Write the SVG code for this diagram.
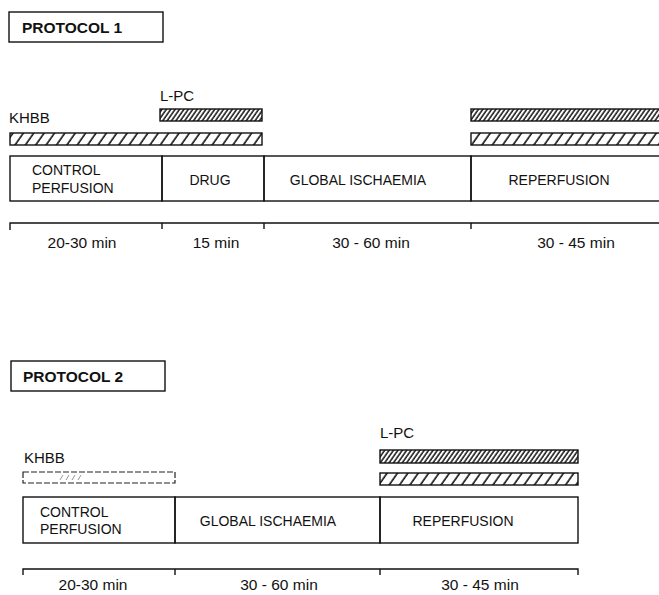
<svg xmlns="http://www.w3.org/2000/svg" width="659" height="595" viewBox="0 0 659 595">
<defs>
<pattern id="sparse" patternUnits="userSpaceOnUse" width="8.5" height="8" patternTransform="rotate(35)">
<rect width="8.5" height="8" fill="#fff"/>
<line x1="2" y1="0" x2="2" y2="8" stroke="#111" stroke-width="1.6"/>
</pattern>
<pattern id="dense" patternUnits="userSpaceOnUse" width="3.6" height="8" patternTransform="rotate(35)">
<rect width="3.6" height="8" fill="#fff"/>
<line x1="1" y1="0" x2="1" y2="8" stroke="#111" stroke-width="1.5"/>
</pattern>
<style>
.ln{fill:none;stroke:#111;stroke-width:1.4}
.bar{stroke:#111;stroke-width:1.4}
.t{font-family:"Liberation Sans",Arial,sans-serif;fill:#111}
.ttl{font-size:15.5px;font-weight:bold}
.lab{font-size:15px}
.sec{font-size:14px}
.dur{font-size:15.5px;text-anchor:middle}
.mid{text-anchor:middle}
</style>
</defs>
<rect width="659" height="595" fill="#fff"/>

<!-- PROTOCOL 1 -->
<g id="p1-title">
<rect class="ln" x="9" y="12" width="154" height="30"/>
<text class="t ttl" x="22" y="33">PROTOCOL 1</text>
</g>
<g id="p1-lpc">
<text class="t lab" x="160" y="101">L-PC</text>
<rect class="bar" x="160" y="109" width="102" height="12" fill="url(#dense)"/>
</g>
<g id="p1-khbb">
<text class="t lab" x="9" y="123">KHBB</text>
<rect class="bar" x="10" y="133" width="252" height="12" fill="url(#sparse)"/>
</g>
<g id="p1-reperf-bars">
<rect class="bar" x="471" y="109" width="200" height="12" fill="url(#dense)"/>
<rect class="bar" x="471" y="133" width="200" height="12" fill="url(#sparse)"/>
</g>
<g id="p1-control">
<rect class="ln" x="10" y="156" width="152" height="45"/>
<text class="t sec" x="32" y="175">CONTROL</text>
<text class="t sec" x="32" y="193">PERFUSION</text>
</g>
<g id="p1-drug">
<rect class="ln" x="162" y="156" width="102" height="45"/>
<text class="t sec mid" x="210" y="185">DRUG</text>
</g>
<g id="p1-ischaemia">
<rect class="ln" x="264" y="156" width="207" height="45"/>
<text class="t sec mid" x="358" y="185">GLOBAL ISCHAEMIA</text>
</g>
<g id="p1-reperfusion">
<rect class="ln" x="471" y="156" width="200" height="45"/>
<text class="t sec mid" x="559" y="185">REPERFUSION</text>
</g>

<!-- PROTOCOL 2 -->
<g id="p2-title">
<rect class="ln" x="11" y="361" width="154" height="30"/>
<text class="t ttl" x="23" y="382">PROTOCOL 2</text>
</g>
<g id="p2-khbb">
<text class="t lab" x="24" y="463">KHBB</text>
<rect x="23" y="472" width="152" height="11" fill="#fff" stroke="#222" stroke-width="1.2" stroke-dasharray="6 2"/>
<path d="M60,480 L63,475 M66,480 L69,475 M72,480 L75,475 M78,480 L81,475" stroke="#999" stroke-width="1"/>
</g>
<g id="p2-lpc">
<text class="t lab" x="380" y="438">L-PC</text>
<rect class="bar" x="380" y="450" width="198" height="13" fill="url(#dense)"/>
<rect class="bar" x="380" y="473" width="198" height="12" fill="url(#sparse)"/>
</g>
<g id="p2-control">
<rect class="ln" x="23" y="497" width="152" height="46"/>
<text class="t sec" x="40" y="517">CONTROL</text>
<text class="t sec" x="40" y="534">PERFUSION</text>
</g>
<g id="p2-ischaemia">
<rect class="ln" x="175" y="497" width="205" height="46"/>
<text class="t sec mid" x="268" y="526">GLOBAL ISCHAEMIA</text>
</g>
<g id="p2-reperfusion">
<rect class="ln" x="380" y="497" width="198" height="46"/>
<text class="t sec mid" x="463" y="526">REPERFUSION</text>
</g>

<!-- timelines -->
<g id="connectors">
<path class="ln" d="M10,230 V223 H659 M162,223 V229 M264,223 V229 M471,223 V229"/>
<path class="ln" d="M23,575 V569 H578 V575 M175,569 V575 M380,569 V575"/>
</g>
<g id="p1-durations">
<text class="t dur" x="82" y="248">20-30 min</text>
<text class="t dur" x="216" y="248">15 min</text>
<text class="t dur" x="371" y="248">30 - 60 min</text>
<text class="t dur" x="576" y="248">30 - 45 min</text>
</g>
<g id="p2-durations">
<text class="t dur" x="93" y="590">20-30 min</text>
<text class="t dur" x="279" y="590">30 - 60 min</text>
<text class="t dur" x="480" y="590">30 - 45 min</text>
</g>
</svg>
